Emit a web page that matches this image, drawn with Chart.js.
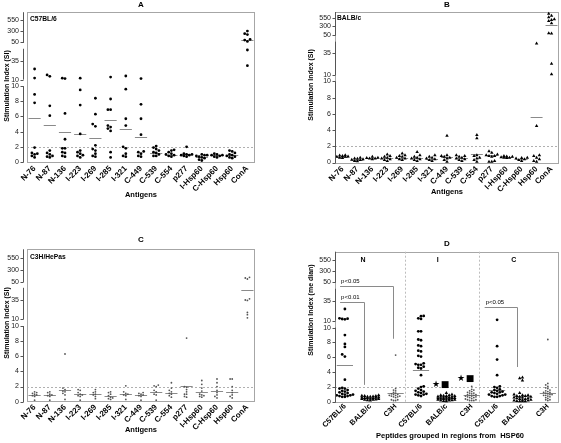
<!DOCTYPE html>
<html><head><meta charset="utf-8">
<script src="https://cdn.jsdelivr.net/npm/chart.js@4.4.1/dist/chart.umd.min.js"></script>
<style>
html,body{margin:0;padding:0;background:#fff;}
#wrap{position:relative;width:561px;height:443px;overflow:hidden;background:#fff;}
#wrap canvas{position:absolute;}
</style></head><body>
<div id="wrap">
<canvas id="cA" width="280" height="221" style="left:0px;top:0px;width:280px;height:221px"></canvas>
<canvas id="cB" width="281" height="221" style="left:280px;top:0px;width:281px;height:221px"></canvas>
<canvas id="cC" width="280" height="222" style="left:0px;top:221px;width:280px;height:222px"></canvas>
<canvas id="cD" width="281" height="222" style="left:280px;top:221px;width:281px;height:222px"></canvas>
</div>
<script>
const FONT = '"Liberation Sans", Arial, Helvetica, sans-serif';

// ---------- categories & tick labels ----------
const antigens = ['N-76','N-87','N-136','I-223','I-269','I-285','I-321','C-449','C-539','C-554','p277','I-Hsp60','C-Hsp60','Hsp60','ConA'];
const strainGroups = ['C57BL/6','BALB/c','C3H','C57BL/6','BALB/c','C3H','C57BL/6','BALB/c','C3H'];
const regionNames = ['N','I','C'];
const lowerTicks = [0,2,4,6,8,10];
const upperTicks = [10,35,50,300,550];
const refLineSI = 2;

// ---------- Panel A : C57BL/6 (SI per mouse, per antigen) ----------
const siA = [
  [24.5,12.2,8.9,7.8,1.9,1.2,1.1,1.0,0.8,0.6],
  [16.5,14.5,7.4,6.1,1.5,1.2,1.0,0.8,0.7,0.6],
  [12.0,11.5,6.4,3.0,1.8,1.8,1.3,1.2,0.8,0.7],
  [12.0,9.5,7.5,3.7,1.5,1.3,1.1,0.9,0.8,0.6],
  [8.4,6.3,5.0,4.7,2.2,1.7,1.5,1.1,0.8,0.7],
  [13.5,8.3,6.9,6.9,4.8,4.6,4.4,4.1,1.3,0.6],
  [15.0,9.6,5.7,4.8,2.0,1.8,1.1,0.8,0.7],
  [11.5,7.6,5.7,3.6,1.4,1.3,1.1,0.8,0.7],
  [2.1,1.9,1.7,1.5,1.3,1.2,1.0,0.8,0.8],
  [1.6,1.5,1.3,1.1,1.0,0.9,0.8,0.7],
  [2.0,1.1,1.0,1.0,0.9,0.9,0.8,0.7],
  [1.0,0.9,0.9,0.8,0.7,0.6,0.5,0.3,0.2],
  [1.1,1.0,0.9,0.9,0.8,0.7,0.6],
  [1.5,1.4,1.2,1.0,0.9,0.8,0.7,0.6,0.5],
  [290,235,215,115,100,72,44,29]
];
const meanA = [5.85,4.9,3.9,3.75,3.2,5.6,4.3,3.3,1.15,0.9,1.0,0.7,0.95,0.9,108];

// ---------- Panel B : BALB/c ----------
const siB = [
  [0.9,0.85,0.8,0.75,0.7,0.7,0.6,0.55],
  [0.6,0.5,0.45,0.4,0.35,0.3,0.2,0.15],
  [0.7,0.6,0.55,0.5,0.5,0.4],
  [1.0,0.8,0.7,0.6,0.5,0.4,0.3,0.2],
  [1.1,0.9,0.8,0.7,0.6,0.5,0.4,0.3],
  [1.3,0.9,0.7,0.6,0.5,0.4,0.3,0.2],
  [0.9,0.7,0.6,0.5,0.4,0.3,0.2],
  [3.3,0.9,0.8,0.7,0.6,0.5,0.3,0.1],
  [0.9,0.8,0.7,0.6,0.5,0.4,0.3,0.2],
  [3.4,3.0,0.9,0.8,0.6,0.5,0.3,0.1],
  [1.4,1.2,1.0,0.9,0.8,0.8,0.7,0.2,0.1,0.1],
  [0.8,0.75,0.7,0.65,0.6,0.6,0.55],
  [0.6,0.55,0.5,0.4,0.3,0.2],
  [43,4.5,0.9,0.8,0.6,0.4,0.2,0.1],
  [680,620,570,510,490,460,390,100,95,23,11]
];
const meanB = [0.7,0.35,0.5,0.6,0.6,0.55,0.45,0.7,0.6,1.05,0.9,0.7,0.45,5.6,330];

// ---------- Panel C : C3H/HePas ----------
const siC = [
  [1.3,1.2,1.1,1.0,0.9,0.8,0.7,0.2],
  [1.3,1.2,1.0,0.9,0.8,0.7,0.2],
  [6.3,1.8,1.6,1.4,1.3,1.1,0.9,0.3],
  [1.6,1.5,1.2,1.0,0.9,0.8,0.7,0.2],
  [1.6,1.3,1.2,1.0,0.9,0.7,0.4],
  [1.3,1.2,1.0,0.8,0.6,0.5,0.4,0.3],
  [2.1,1.3,1.1,1.0,0.9,0.8,0.3],
  [1.2,1.1,1.0,0.9,0.8,0.7,0.2],
  [2.2,2.1,2.0,1.5,1.3,1.0,0.9,0.2],
  [2.5,1.8,1.5,1.3,1.1,1.0,0.8,0.6],
  [8.4,2.0,1.9,1.6,1.3,1.0,1.0,0.7,0.6],
  [2.8,2.3,1.8,1.4,1.0,0.9,0.8,0.7,0.6],
  [3.0,2.5,2.0,1.5,1.2,0.9,0.7,0.5],
  [3.0,3.0,2.0,1.5,1.2,0.9,0.7,0.5],
  [140,127,106,36,35,34.5,19,16,12]
];
const meanC = [0.9,0.9,1.6,1.0,1.0,0.8,1.0,0.9,1.3,1.2,2.1,1.3,1.4,1.3,43];

// ---------- Panel D : peptides grouped by HSP60 region (N, I, C) ----------
const siD = [
  [24.5,12.9,12.4,12.0,11.6,9.0,7.8,7.4,6.4,6.1,3.0,1.9,1.8,1.8,1.6,1.5,1.4,1.3,1.2,1.1,1.0,1.0,0.9,0.9,0.8,0.8,0.7,0.7],
  [0.9,0.85,0.8,0.8,0.75,0.7,0.7,0.65,0.6,0.6,0.55,0.5,0.5,0.45,0.4,0.4,0.35,0.3,0.3,0.25,0.2],
  [6.3,1.8,1.6,1.5,1.3,1.2,1.1,1.0,1.0,0.9,0.9,0.8,0.8,0.7,0.7,0.6,0.3,0.3,0.2,0.2],
  [15.8,15.5,12.8,12.1,9.5,9.5,8.4,8.3,7.6,7.5,6.9,6.8,6.2,6.1,5.2,5.1,5.0,5.0,4.75,4.6,4.5,3.6,2.1,2.0,1.8,1.6,1.5,1.4,1.3,1.2,1.1,1.0,1.0,0.9,0.8],
  [1.2,1.0,0.9,0.9,0.85,0.8,0.8,0.75,0.7,0.7,0.65,0.6,0.6,0.55,0.5,0.5,0.45,0.4,0.4,0.35,0.3,0.3,0.25,0.2,0.2,0.15,0.1],
  [2.1,1.7,1.6,1.5,1.4,1.3,1.2,1.2,1.1,1.0,1.0,0.9,0.9,0.8,0.8,0.7,0.7,0.6,0.6,0.5,0.4,0.3,0.3,0.2,0.2,0.2],
  [11.0,7.5,5.7,3.6,2.1,2.0,1.9,1.7,1.6,1.5,1.4,1.3,1.3,1.2,1.1,1.0,1.0,0.9,0.8,0.8,0.7,0.7],
  [3.3,3.2,2.9,1.2,1.0,0.9,0.9,0.8,0.8,0.7,0.7,0.6,0.6,0.5,0.5,0.4,0.4,0.3,0.3,0.2,0.2,0.15,0.1,0.1,0.1],
  [8.4,2.5,2.3,2.1,1.9,1.8,1.6,1.5,1.4,1.3,1.3,1.2,1.1,1.0,1.0,0.9,0.9,0.8,0.7,0.6,0.5,0.3,0.3,0.2]
];
const meanD = [5.0,0.55,1.25,4.35,0.6,0.95,1.6,0.8,1.2];

// annotations of panel D (in data units: category index, SI)
const bracketsD = [
  {from:-0.19, to:1.9, at:47, down:8.5, text:'p<0.05'},
  {from:-0.19, to:0.75, at:33, down:2.3, text:'p<0.01'},
  {from:5.51, to:6.8, at:27, down:4.7, text:'p<0.05'}
];
const sigMarksD = [
  {x:3.59, y:2.3, sym:'\u2605'}, {x:3.95, y:2.3, sym:'\u25A0'},
  {x:4.58, y:3.1, sym:'\u2605'}, {x:4.93, y:3.1, sym:'\u25A0'}
];
const regionDividersD = [2.37, 5.3];
const regionLabelXD = [0.71, 3.66, 6.66];

// ---------- point styles ----------
const ST = {
  dot:   {name:'dot',   shape:'circle',   r:1.4, color:'#000', gap:2.7, maxHalf:0.42},
  tri:   {name:'tri',   shape:'triangle', r:2.0, color:'#000', gap:2.8, maxHalf:0.42},
  small: {name:'small', shape:'circle',   r:0.9, color:'#555', gap:2.1, maxHalf:0.42}
};

const PANELS = [
  {id:'cA', cx:0, cy:0, w:280, h:221, box:{l:27,r:255,t:11,b:162},
   anchors:[[10,10.85],[35,13.27],[50,15.75],[300,17.32],[550,18.69]], uTop:19.74, brk:[45,50], axisOff:4,
   xMin:-0.5, xMax:14.5, labels:antigens, values:siA, means:meanA, meanHalf:0.4, style:()=>ST.dot, xPad:2, xFont:8,
   texts:[
     {t:'A', x:141, y:5, f:'bold 8px '+FONT},
     {t:'C57BL/6', x:30, y:19.5, f:'bold 6.7px '+FONT, a:'left'},
     {t:'Stimulation Index (SI)', x:7.5, y:86, f:'bold 7px '+FONT, rot:-Math.PI/2},
     {t:'Antigens', x:141, y:195, f:'bold 7.5px '+FONT}
   ]},
  {id:'cB', cx:280, cy:0, w:281, h:221, box:{l:335,r:559,t:12,b:162.5},
   anchors:[[10,10.80],[35,13.46],[50,15.74],[300,16.85],[550,17.84]], uTop:18.58, brk:[44.6,50], axisOff:0,
   xMin:-0.5, xMax:14.5, labels:antigens, values:siB, means:meanB, meanHalf:0.4, style:()=>ST.tri, xPad:2, xFont:8,
   texts:[
     {t:'B', x:447, y:5, f:'bold 8px '+FONT},
     {t:'BALB/c', x:337, y:18.5, f:'bold 6.7px '+FONT, a:'left'},
     {t:'Stimulation Index (SI)', x:311.5, y:85, f:'bold 7px '+FONT, rot:-Math.PI/2},
     {t:'Antigens', x:447, y:192, f:'bold 7.5px '+FONT}
   ]},
  {id:'cC', cx:0, cy:221, w:280, h:222, box:{l:27,r:255,t:249.3,b:401.7},
   anchors:[[10,10.88],[35,13.43],[50,15.85],[300,17.44],[550,18.94]], uTop:20.13, brk:[45,50], axisOff:4,
   xMin:-0.5, xMax:14.5, labels:antigens, values:siC, means:meanC, meanHalf:0.4, style:()=>ST.small, xPad:1, xFont:8,
   texts:[
     {t:'C', x:141, y:240, f:'bold 8px '+FONT},
     {t:'C3H/HePas', x:30, y:257.5, f:'bold 6.7px '+FONT, a:'left'},
     {t:'Stimulation Index (SI)', x:6.7, y:323, f:'bold 7px '+FONT, rot:-Math.PI/2},
     {t:'Antigens', x:141, y:430, f:'bold 7.5px '+FONT}
   ]},
  {id:'cD', cx:280, cy:221, w:281, h:222, box:{l:335,r:559,t:251.7,b:402},
   anchors:[[10,10.94],[35,13.63],[50,16.11],[300,17.63],[550,19.11]], uTop:20.2, brk:[44.6,50], axisOff:0,
   xMin:-0.39, xMax:8.44, labels:strainGroups, values:siD, means:meanD, meanHalf:0.32, xPad:0, xFont:7.5,
   style:(i)=>[ST.dot, ST.tri, ST.small][i%3],
   dividers:regionDividersD, brackets:bracketsD, marks:sigMarksD,
   texts:[
     {t:'D', x:447, y:244, f:'bold 8px '+FONT},
     {t:'Stimulation Index (me dian)', x:311.5, y:310, f:'bold 7px '+FONT, rot:-Math.PI/2},
     {t:'Peptides grouped in regions from  HSP60', x:450, y:436, f:'bold 7.5px '+FONT}
   ]}
];
const PBY = {}; PANELS.forEach(p => PBY[p.id] = p);

// ---------- broken-axis mapping (value -> axis unit) ----------
function toU(v, P, upper) {
  if (upper === undefined) upper = v > 10;
  if (!upper) return Math.max(v, 0);
  const a = P.anchors;
  if (v <= a[0][0]) return a[0][1];
  for (let k = 1; k < a.length; k++) {
    if (v <= a[k][0]) { const [v0,u0] = a[k-1], [v1,u1] = a[k]; return u0 + (v - v0) / (v1 - v0) * (u1 - u0); }
  }
  const [v0,u0] = a[a.length-2], [v1,u1] = a[a.length-1];
  return u1 + (v - v1) / (v1 - v0) * (u1 - u0);
}

class BrokenScale extends Chart.LinearScale {
  _P() { return PBY[this.chart.canvas.id]; }
  getPixelForValue(v) { const P = this._P(); return this.getPixelForDecimal(toU(v, P) / P.uTop); }
  getPixelForTick(i) { const P = this._P(); const t = this.ticks[i]; return this.getPixelForDecimal(toU(t.value, P, t.upper) / P.uTop); }
  getValueForPixel(px) { return this.getDecimalForPixel(px) * this._P().uTop; }
}
BrokenScale.id = 'broken';
BrokenScale.defaults = Chart.LinearScale.defaults;
Chart.register(BrokenScale);

// ---------- horizontal spreading of points (swarm) ----------
function swarm(vals, P, pxU, pxCat, gap, maxHalfCat) {
  const ys = vals.map(v => toU(v, P) * pxU);
  const order = vals.map((_, i) => i).sort((a, b) => ys[a] - ys[b]);
  const placed = [], offs = new Array(vals.length).fill(0);
  const maxK = Math.max(1, Math.floor(maxHalfCat * pxCat / gap));
  for (const i of order) {
    let best = 0, bestD = -1;
    for (let k = 0; k <= 2 * maxK; k++) {
      const s = k === 0 ? 0 : (k % 2 ? -1 : 1) * Math.ceil(k / 2);
      const x = s * gap;
      let dmin = Infinity;
      for (const p of placed) { const d = Math.hypot(p.x - x, p.y - ys[i]); if (d < dmin) dmin = d; }
      if (dmin >= gap) { best = x; break; }
      if (dmin > bestD) { bestD = dmin; best = x; }
    }
    placed.push({x: best, y: ys[i]});
    offs[i] = best / pxCat;
  }
  return offs;
}

function buildDatasets(P) {
  const pxCat = (P.box.r - P.box.l) / (P.xMax - P.xMin);
  const pxU = (P.box.b - P.box.t) / P.uTop;
  const groups = {};
  P.values.forEach((vals, i) => {
    const st = P.style(i);
    const offs = swarm(vals, P, pxU, pxCat, st.gap, st.maxHalf);
    if (!groups[st.name]) groups[st.name] = {st, data: []};
    vals.forEach((v, j) => groups[st.name].data.push({x: i + offs[j], y: v}));
  });
  return Object.values(groups).map(({st, data}) => ({
    data, pointStyle: st.shape, pointRadius: st.r, pointHoverRadius: st.r,
    pointBackgroundColor: st.color, pointBorderColor: st.color, pointBorderWidth: 0,
    showLine: false, clip: false
  }));
}

// ---------- overlay drawing (box, broken axis, means, reference line, annotations) ----------
function hline(ctx, x1, x2, y) { ctx.beginPath(); ctx.moveTo(x1, y); ctx.lineTo(x2, y); ctx.stroke(); }
function vline(ctx, x, y1, y2) { ctx.beginPath(); ctx.moveTo(x, y1); ctx.lineTo(x, y2); ctx.stroke(); }
function txt(ctx, t, x, y, f, align, rot, color) {
  ctx.save(); ctx.translate(x, y); if (rot) ctx.rotate(rot);
  ctx.font = f; ctx.textAlign = align || 'center'; ctx.textBaseline = 'middle';
  ctx.fillStyle = color || '#000'; ctx.fillText(t, 0, 0); ctx.restore();
}

const overlay = {
  id: 'overlay',
  beforeDatasetsDraw(chart) {
    const P = PBY[chart.canvas.id];
    const {ctx, chartArea: ca, scales: {x, y}} = chart;
    ctx.save();
    ctx.lineWidth = 1;
    ctx.strokeStyle = '#a6a6a6';
    ctx.strokeRect(Math.round(ca.left) + 0.5, Math.round(ca.top) + 0.5, Math.round(ca.right - ca.left) - 1, Math.round(ca.bottom - ca.top));
    if (P.dividers) {
      ctx.strokeStyle = '#bdbdbd'; ctx.setLineDash([2, 2]);
      P.dividers.forEach(d => vline(ctx, Math.round(x.getPixelForValue(d)) + 0.5, ca.top, ca.bottom));
    }
    ctx.strokeStyle = '#b0b0b0'; ctx.setLineDash([2, 2]);
    hline(ctx, ca.left, ca.right, Math.round(y.getPixelForValue(refLineSI)) + 0.5);
    ctx.setLineDash([]);
    ctx.strokeStyle = '#8a8a8a';
    P.means.forEach((m, i) => {
      const py = Math.round(y.getPixelForValue(m)) + 0.5;
      hline(ctx, x.getPixelForValue(i - P.meanHalf), x.getPixelForValue(i + P.meanHalf), py);
    });
    ctx.restore();
  },
  afterDraw(chart) {
    const P = PBY[chart.canvas.id];
    const {ctx, chartArea: ca, scales: {x, y}} = chart;
    ctx.save();
    ctx.lineWidth = 1;
    const ax = Math.round(ca.left - P.axisOff) + 0.5;
    const py = (v, up) => y.getPixelForDecimal(toU(v, P, up) / P.uTop);
    ctx.strokeStyle = '#555';
    vline(ctx, ax, py(0, false) + 0.5, py(10, false));
    vline(ctx, ax, py(10, true), py(P.brk[0], true));
    vline(ctx, ax, py(P.brk[1], true) + 0.5, ca.top);
    lowerTicks.forEach(v => { const p = Math.round(py(v, false)) + 0.5; hline(ctx, ax - 3, ax, p); });
    upperTicks.forEach(v => { const p = Math.round(py(v, true)) + 0.5; hline(ctx, ax - 3, ax, p); });
    if (P.brackets) {
      ctx.strokeStyle = '#8a8a8a';
      P.brackets.forEach(b => {
        const yy = Math.round(y.getPixelForValue(b.at)) + 0.5;
        const x1 = x.getPixelForValue(b.from), x2 = Math.round(x.getPixelForValue(b.to)) + 0.5;
        hline(ctx, x1, x2, yy);
        vline(ctx, x2, yy, y.getPixelForValue(b.down));
        txt(ctx, b.text, x1 + 1, yy - 5.5, '6px ' + FONT, 'left');
      });
    }
    if (P.marks) {
      P.marks.forEach(m => txt(ctx, m.sym, x.getPixelForValue(m.x), y.getPixelForValue(m.y), '9px "DejaVu Sans", sans-serif', 'center'));
    }
    if (P.dividers) {
      regionNames.forEach((n, k) => txt(ctx, n, x.getPixelForValue(regionLabelXD[k]), y.getPixelForValue(550), 'bold 7px ' + FONT, 'center'));
    }
    P.texts.forEach(t => txt(ctx, t.t, t.x - P.cx, t.y - P.cy, t.f, t.a, t.rot));
    ctx.restore();
  }
};

// ---------- charts ----------
PANELS.forEach(P => {
  const yW = P.box.l - P.cx;
  const xH = P.cy + P.h - P.box.b;
  const yTicks = lowerTicks.map(v => ({value: v, upper: false})).concat(upperTicks.map(v => ({value: v, upper: true})));
  const yLabels = yTicks.map(t => String(t.value));
  new Chart(document.getElementById(P.id), {
    type: 'scatter',
    data: { datasets: buildDatasets(P) },
    options: {
      responsive: false, animation: false, devicePixelRatio: 1,
      events: [],
      layout: { padding: { left: 0, right: P.cx + P.w - P.box.r, top: P.box.t - P.cy, bottom: 0 } },
      plugins: { legend: { display: false }, tooltip: { enabled: false }, title: { display: false } },
      scales: {
        x: {
          type: 'linear', min: P.xMin, max: P.xMax,
          grid: { display: false, drawTicks: false }, border: { display: false },
          afterBuildTicks: s => { s.ticks = P.labels.map((_, i) => ({value: i})); },
          afterFit: s => { s.height = xH; },
          ticks: { autoSkip: false, minRotation: 45, maxRotation: 45, padding: P.xPad, color: '#000',
                   font: { family: FONT, size: P.xFont, weight: 'bold' },
                   callback: (v, i) => P.labels[i] }
        },
        y: {
          type: 'broken', min: 0, max: 1000,
          grid: { display: false, drawTicks: false }, border: { display: false },
          afterBuildTicks: s => { s.ticks = yTicks.map(t => ({value: t.value, upper: t.upper})); },
          afterFit: s => { s.width = yW; },
          ticks: { autoSkip: false, padding: P.axisOff + 4, color: '#222',
                   font: { family: FONT, size: 7 },
                   callback: (v, i) => yLabels[i] }
        }
      }
    },
    plugins: [overlay]
  });
});
</script></body></html>
